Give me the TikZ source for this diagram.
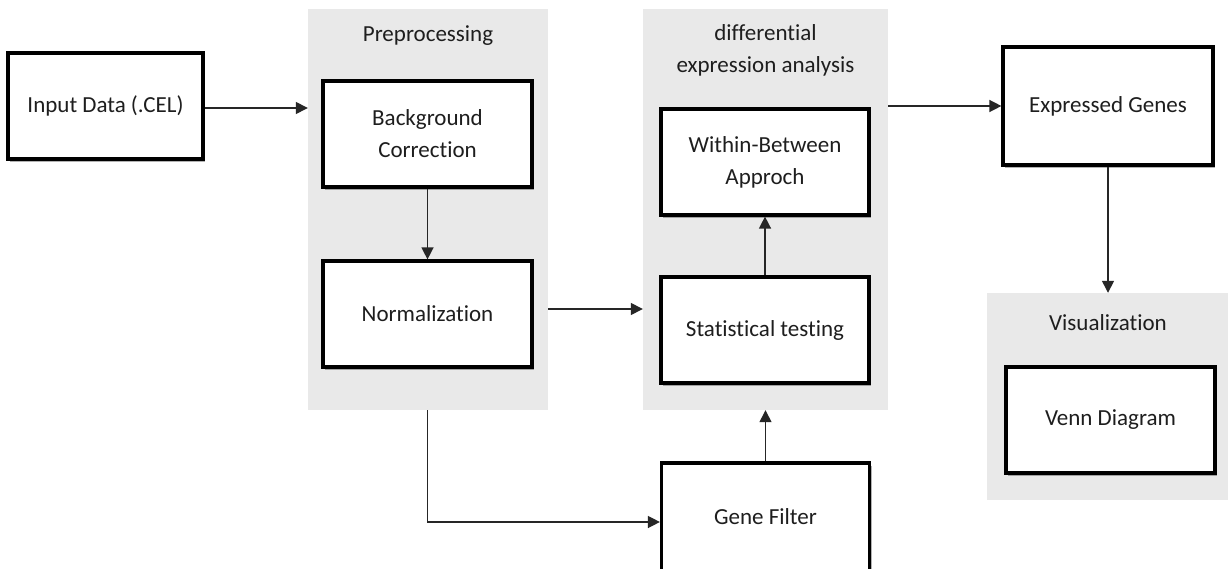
\documentclass[tikz,border=0pt]{standalone}
\usepackage{fontspec}
\setmainfont{Carlito}[Ligatures={NoCommon}]
\usetikzlibrary{arrows.meta,shadows}
\definecolor{panelgray}{HTML}{E9E9E9}
\definecolor{txtgray}{HTML}{1E1E1E}
\begin{document}
\begin{tikzpicture}[x=1pt,y=-1pt,
  every node/.style={font=\fontsize{23}{32}\selectfont, text=txtgray},
  box/.style={draw=black, line width=3.2pt, fill=white, rectangle, inner sep=0pt,
    align=center, minimum height=106pt, minimum width=208pt,
    drop shadow={shadow xshift=2pt, shadow yshift=-3pt, opacity=0.3, fill=black}},
  panel/.style={fill=panelgray, draw=none, rectangle, inner sep=0pt},
  ttl/.style={align=center},
  arr/.style={line width=1.4pt, draw=black!85, -{Triangle[length=12pt,width=12pt]}}]
\useasboundingbox (0,0) rectangle (1228,569);
\fill[white] (0,0) rectangle (1228,569);
% panels
\node[panel, minimum width=240pt, minimum height=401pt] (pre) at (428,209.5) {};
\node[panel, minimum width=245pt, minimum height=401pt] (dif) at (765.5,209.5) {};
\node[panel, minimum width=243pt, minimum height=207pt] (viz) at (1108.5,396.5) {};
% titles
\node[ttl] (preT) at (428,36) {Preprocessing};
\node[ttl] (difT) at (765.5,50) {differential\\expression analysis};
\node[ttl] (vizT) at (1108,323) {Visualization};
% boxes
\node[box, minimum width=195pt] (in) at (105.5,106) {Input Data (.CEL)};
\node[box, minimum width=209pt] (bg) at (427.5,134) {Background\\Correction};
\node[box, minimum width=209pt] (norm) at (427.5,314) {Normalization};
\node[box] (wb) at (765,162) {Within-Between\\Approch};
\node[box] (st) at (765,330) {Statistical testing};
\node[box, minimum height=108pt] (gf) at (765.5,517) {Gene Filter};
\node[box, minimum width=210pt, minimum height=118pt] (ex) at (1108,106) {Expressed Genes};
\node[box, minimum width=209pt] (venn) at (1110.5,420) {Venn Diagram};
% connectors
\draw[arr] ([yshift=-2pt]in.east) -- ([yshift=-2pt]in.east -| pre.west);
\draw[arr] (bg.south) -- (norm.north);
\draw[arr] ([yshift=5pt]norm.east -| pre.east) -- ([yshift=5pt]norm.east -| dif.west);
\draw[arr] (st.north) -- (wb.south);
\draw[arr] (gf.north) -- (gf.north |- dif.south);
\draw[arr] (norm.south |- pre.south) |- ([yshift=-5pt]gf.west);
\draw[arr] (ex.west -| dif.east) -- (ex.west);
\draw[arr] (ex.south) -- (ex.south |- viz.north);
\end{tikzpicture}
\end{document}
